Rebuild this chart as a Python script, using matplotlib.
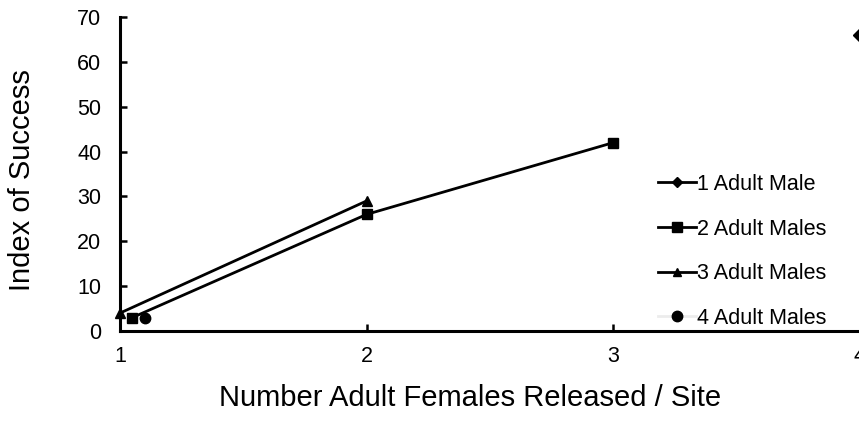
import matplotlib
matplotlib.use("Agg")
import matplotlib.pyplot as plt

plt.rcParams['font.family'] = ['Liberation Sans', 'DejaVu Sans']

# Data
x_1male = [4.0]
y_1male = [66]
x_2males = [1.05, 2.0, 3.0]
y_2males = [3, 26, 42]
x_3males = [1.0, 2.0]
y_3males = [4, 29]
x_4males = [1.1]
y_4males = [3]
labels = ["1 Adult Male", "2 Adult Males", "3 Adult Males", "4 Adult Males"]
x_ticks = [1, 2, 3, 4]
y_ticks = [0, 10, 20, 30, 40, 50, 60, 70]

W, H = 859, 440
fig = plt.figure(figsize=(W / 100, H / 100), dpi=100)
ax = fig.add_axes([120 / W, (H - 331) / H, 740 / W, 314 / H])

lw = 2.0
ax.plot(x_1male, y_1male, color='black', lw=lw, marker='D', ms=7, label=labels[0], clip_on=False, zorder=5)
ax.plot(x_2males, y_2males, color='black', lw=lw, marker='s', ms=7.5, label=labels[1], clip_on=False, zorder=5)
ax.plot(x_3males, y_3males, color='black', lw=lw, marker='^', ms=7.5, label=labels[2], clip_on=False, zorder=5)
ax.plot(x_4males, y_4males, color='#ececec', lw=lw, marker='o', ms=7.5,
        markerfacecolor='black', markeredgecolor='black', label=labels[3], clip_on=False, zorder=5)

ax.set_xlim(1, 4)
ax.set_ylim(0, 70)
ax.set_xticks(x_ticks)
ax.set_yticks(y_ticks)
ax.tick_params(direction='in', length=5, width=1.8, labelsize=15.5)
ax.tick_params(axis='x', pad=11)
ax.tick_params(axis='y', pad=13.5)
for s in ['top', 'right']:
    ax.spines[s].set_visible(False)
for s in ['left', 'bottom']:
    ax.spines[s].set_linewidth(2.2)

fig.text(22 / W, 1 - 180 / H, "Index of Success", fontsize=21, rotation=90,
         ha='center', va='center')
fig.text(470 / W, 1 - 398 / H, "Number Adult Females Released / Site", fontsize=21,
         ha='center', va='center')

# legend
handles, labs = ax.get_legend_handles_labels()
leg = ax.legend(handles, labs, loc='center left', bbox_to_anchor=((649 - 120) / 740, (331 - 251.5) / 314),
                frameon=False, fontsize=15.5, handlelength=1.8, handletextpad=0.05, labelspacing=1.1,
                borderaxespad=0)
leg.legend_handles[0].set_markersize(5)
leg.legend_handles[2].set_markersize(5.5)

fig.savefig("out.png", dpi=100)
